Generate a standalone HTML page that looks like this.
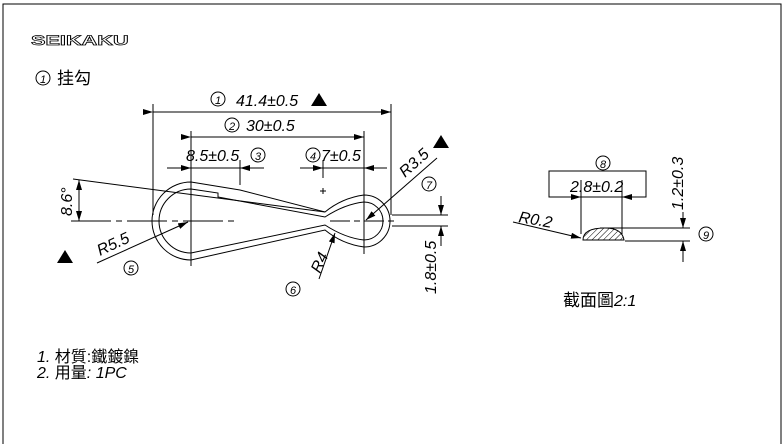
<!DOCTYPE html>
<html><head><meta charset="utf-8"><style>
body{margin:0;background:#fff;}
svg{display:block;font-family:"Liberation Sans","Noto Sans CJK TC",sans-serif;}
.t{font-style:italic;font-size:16px;}
</style></head><body>
<svg width="783" height="444" viewBox="0 0 783 444" xmlns="http://www.w3.org/2000/svg">
<defs>
<marker id="a" markerWidth="10" markerHeight="6" refX="10" refY="3" orient="auto" markerUnits="userSpaceOnUse"><path d="M0,0 L10,3 L0,6z" fill="#000"/></marker>
<pattern id="h" width="4" height="4" patternUnits="userSpaceOnUse" patternTransform="rotate(45)"><line x1="0" y1="0" x2="0" y2="4" stroke="#000" stroke-width="1"/></pattern>
</defs>
<g fill="none" stroke="#000" stroke-width="1">
<path d="M3,444 V4 H781 V444"/>
</g>
<text transform="translate(31,45) scale(1.55,1)" font-size="14" font-weight="bold" fill="none" stroke="#000" stroke-width="0.7">SEIKAKU</text>
<g font-size="17"><circle cx="43" cy="78" r="7" fill="none" stroke="#000"/><text x="40" y="83" font-size="11" font-style="italic">1</text><text x="57" y="84">挂勾</text></g>

<g stroke="#000" stroke-width="1" fill="none">
<line x1="153" y1="104" x2="153" y2="215"/>
<line x1="391" y1="104" x2="391" y2="215"/>
<line x1="191" y1="131" x2="191" y2="266"/>
<line x1="364" y1="131" x2="364" y2="254"/>
<line x1="240" y1="160" x2="240" y2="185"/>
<line x1="323" y1="160" x2="323" y2="178"/>
<line x1="320" y1="191" x2="326" y2="191"/><line x1="323" y1="188" x2="323" y2="194"/>
<line x1="153" y1="112" x2="391" y2="112" marker-start="url(#a)" marker-end="url(#a)"/>
<line x1="191" y1="137" x2="364" y2="137" marker-start="url(#a)" marker-end="url(#a)"/>
<line x1="167" y1="168" x2="191" y2="168" marker-end="url(#a)"/>
<line x1="264" y1="168" x2="240" y2="168" marker-end="url(#a)"/>
<line x1="191" y1="168" x2="240" y2="168"/>
<line x1="300" y1="168" x2="323" y2="168" marker-end="url(#a)"/>
<line x1="387" y1="168" x2="364" y2="168" marker-end="url(#a)"/>
<line x1="323" y1="168" x2="364" y2="168"/>
<line x1="71" y1="221" x2="235" y2="221" stroke-dasharray="40,5,6,5"/>
<line x1="330" y1="221" x2="395" y2="221" stroke-dasharray="20,4,6,4"/>
<path d="M191,182 L240,190 L325,212 Q342,198 364,195 A26,26 0 1 1 364,247 Q342,244 325,230 L191,260 A39,39 0 0 1 191,182 Z"/>
<path d="M191,189 L218,193 L218,197 L325,217 Q345,204 364,202 A19,19 0 1 1 364,240 Q345,238 325,225 L191,253 A32,32 0 0 1 191,189 Z"/>
<line x1="73" y1="179" x2="325" y2="212"/>
<line x1="79" y1="200" x2="79" y2="180" marker-end="url(#a)"/>
<line x1="79" y1="200" x2="79" y2="221" marker-end="url(#a)"/>
<line x1="97" y1="263" x2="188" y2="222" marker-end="url(#a)"/>
<line x1="319" y1="279" x2="335" y2="233" marker-end="url(#a)"/>
<line x1="437" y1="158" x2="366" y2="220" marker-end="url(#a)"/>
<line x1="392" y1="215" x2="448" y2="215"/>
<line x1="392" y1="226" x2="448" y2="226"/>
<line x1="441" y1="196" x2="441" y2="215" marker-end="url(#a)"/>
<line x1="441" y1="246" x2="441" y2="226" marker-end="url(#a)"/>
<circle cx="218" cy="99" r="7"/><circle cx="232" cy="125" r="7"/><circle cx="258" cy="155" r="7"/><circle cx="313" cy="155" r="7"/>
<circle cx="131" cy="268" r="7"/><circle cx="293" cy="289" r="7"/><circle cx="429" cy="184" r="7"/>
<circle cx="603" cy="163" r="7"/><circle cx="706" cy="234" r="7"/>
</g>
<g fill="#000">
<path d="M311,106 L319,93 L327,106Z"/>
<path d="M433,148 L441,135 L449,148Z"/>
<path d="M57,263 L65,250 L73,263Z"/>
</g>
<g class="t">
<text x="215" y="104" font-size="11">1</text><text x="236" y="106">41.4±0.5</text>
<text x="229" y="130" font-size="11">2</text><text x="246" y="131">30±0.5</text>
<text x="186" y="161">8.5±0.5</text><text x="255" y="160" font-size="11">3</text>
<text x="310" y="160" font-size="11">4</text><text x="321" y="161">7±0.5</text>
<text x="128" y="273" font-size="11">5</text><text x="290" y="294" font-size="11">6</text><text x="426" y="189" font-size="11">7</text>
<text x="600" y="168" font-size="11">8</text><text x="703" y="239" font-size="11">9</text>
<text transform="translate(72,216) rotate(-90)">8.6°</text>
<text transform="translate(100,256) rotate(-25)">R5.5</text>
<text transform="translate(320,274) rotate(-65)">R4</text>
<text transform="translate(405,178) rotate(-42)">R3.5</text>
<text transform="translate(436,294) rotate(-90)">1.8±0.5</text>
<text transform="translate(683,210) rotate(-90)">1.2±0.3</text>
<text transform="translate(518,222) rotate(10)">R0.2</text>
<text x="570" y="192">2.8±0.2</text>
</g>
<g stroke="#000" fill="none">
<rect x="549" y="171" width="97" height="26"/>
<line x1="581" y1="180" x2="581" y2="234"/>
<line x1="622" y1="180" x2="622" y2="234"/>
<line x1="560" y1="197" x2="581" y2="197" marker-end="url(#a)"/>
<line x1="643" y1="197" x2="622" y2="197" marker-end="url(#a)"/>
<path d="M583,240 Q583,228 605,228 Q622,228 624,240 Z" fill="url(#h)"/>
<line x1="600" y1="228" x2="690" y2="228"/>
<line x1="625" y1="241" x2="690" y2="241"/>
<line x1="683" y1="212" x2="683" y2="228" marker-end="url(#a)"/>
<line x1="683" y1="262" x2="683" y2="241" marker-end="url(#a)"/>
<line x1="513" y1="222" x2="581" y2="238" marker-end="url(#a)"/>
</g>
<text x="563" y="306" font-size="17">截面圖<tspan font-style="italic" font-size="16">2:1</tspan></text>
<text x="37" y="362" font-size="16"><tspan font-style="italic">1.</tspan> 材質:鐵鍍鎳</text>
<text x="37" y="378" font-size="16"><tspan font-style="italic">2.</tspan> 用量<tspan font-style="italic">:  1PC</tspan></text>
</svg>
</body></html>
